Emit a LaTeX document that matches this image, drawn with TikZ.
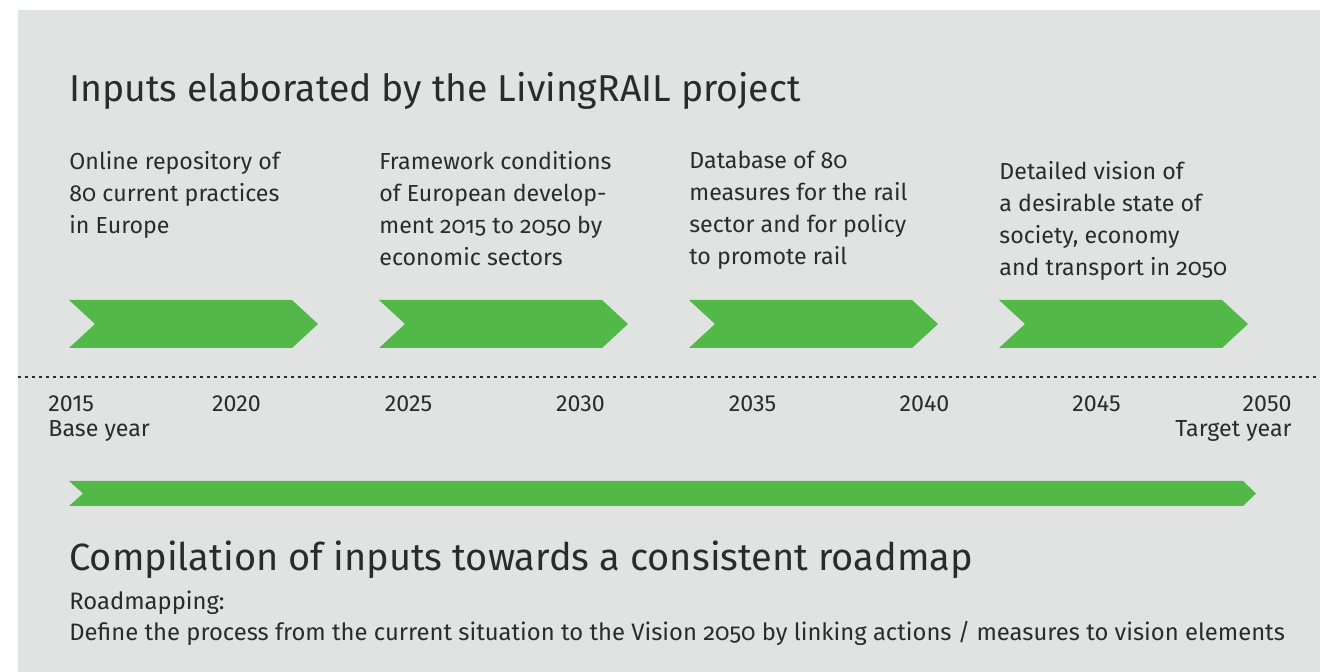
\documentclass[tikz,border=0pt]{standalone}
\usepackage{fontspec}
\setmainfont{Fira Sans}[RawFeature=+onum]
\usetikzlibrary{positioning}
\definecolor{panel}{HTML}{E1E3E2}
\definecolor{railgreen}{HTML}{52B848}
\definecolor{ink}{HTML}{2B2B2B}
\tikzset{
  heading/.style={anchor=base west, inner sep=0pt, text=ink, font=\fontsize{18.7}{22}\selectfont},
  input/.style={anchor=north west, inner sep=0pt, align=left, text=ink, font=\fontsize{11.6}{16}\selectfont},
  year/.style={inner sep=0pt, text=ink, font=\addfontfeature{RawFeature=-onum;+lnum}\fontsize{11.6}{13}\selectfont},
  note/.style={anchor=base west, inner sep=0pt, text=ink, font=\fontsize{11.9}{13}\selectfont},
  chevron/.style={fill=railgreen},
  timeline/.style={line width=0.75pt, dash pattern=on 1.5pt off 2pt, ink},
}

\begin{document}
\begin{tikzpicture}[x=0.5pt, y=-0.5pt]
\useasboundingbox (0,0) rectangle (1320,672);
\fill[panel] (18,10) rectangle (1320,672);

% headline and inputs
\node (title) [heading] at (69,102) {Inputs elaborated by the LivingRAIL project};
\node (repo) [input] at (69,151) {Online repository of\\80 current practices\\in Europe};
\node (frame) [input] at (379,151) {Framework conditions\\of European develop-\\ment 2015 to 2050 by\\economic sectors};
\node (measures) [input] at (689,151) {Database of 80\\measures for the rail\\sector and for policy\\to promote rail};
\node (vision) [input] at (999,161.5) {Detailed vision of\\a desirable state of\\society, economy\\and transport in 2050};

% chevrons
\foreach \x in {69,379,689,999}
  \fill[chevron] (\x,300) -- ++(223,0) -- ++(26,24) -- ++(-26,24) -- ++(-223,0) -- ++(26,-24) -- cycle;

% time axis
\coordinate (axisL) at (18,377);
\coordinate (axisR) at (1320,377);
\draw[timeline] (axisL) -- (axisR);
\node (y2015) [year, anchor=west] at (48,404) {2015};
\foreach \yr/\x in {2020/236.5,2025/408.5,2030/580.5,2035/752.5,2040/924.5,2045/1096.5}
  \node (y\yr) [year] at (\x,404) {\yr};
\node (y2050) [year, anchor=east] at (1292,404) {2050};
\node (base) [year, below=4pt of y2015.south west, anchor=north west] {Base year};
\node (target) [year, below=4pt of y2050.south east, anchor=north east] {Target year};

% roadmap bar
\fill[chevron] (69,481) -- (1243,481) -- (1256,493.5) -- (1243,506) -- (69,506) -- (83,493.5) -- cycle;

\node (compile) [heading, font=\fontsize{19}{22}\selectfont] at (69,570) {Compilation of inputs towards a consistent roadmap};
\node (roadmap) [note] at (69,609) {Roadmapping:};
\node (define) [note] at (69,640) {Define the process from the current situation to the Vision 2050 by linking actions / measures to vision elements};
\end{tikzpicture}
\end{document}
